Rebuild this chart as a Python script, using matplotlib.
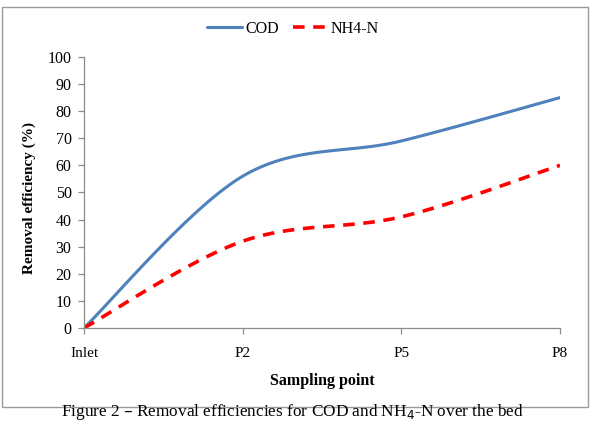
import matplotlib
matplotlib.use("Agg")
import matplotlib.pyplot as plt
import numpy as np
from matplotlib.patches import Rectangle

# data
categories = ["Inlet", "P2", "P5", "P8"]
cod = [0, 56, 69, 85]
nh4 = [0, 32, 41, 60]

plt.rcParams["font.family"] = ["Liberation Serif", "DejaVu Serif"]


def smooth(xs, ys, n=40):
    # excel style smoothing (catmull-rom as bezier segments)
    xs = np.asarray(xs, float)
    ys = np.asarray(ys, float)
    px = np.concatenate([[xs[0]], xs, [xs[-1]]])
    py = np.concatenate([[ys[0]], ys, [ys[-1]]])
    out_x, out_y = [], []
    t = np.linspace(0, 1, n)
    for i in range(1, len(px) - 2):
        p0 = np.array([px[i], py[i]])
        p3 = np.array([px[i + 1], py[i + 1]])
        c1 = p0 + (np.array([px[i + 1], py[i + 1]]) - np.array([px[i - 1], py[i - 1]])) / 6
        c2 = p3 - (np.array([px[i + 2], py[i + 2]]) - np.array([px[i], py[i]])) / 6
        b = ((1 - t) ** 3)[:, None] * p0 + (3 * (1 - t) ** 2 * t)[:, None] * c1 \
            + (3 * (1 - t) * t ** 2)[:, None] * c2 + (t ** 3)[:, None] * p3
        out_x.extend(b[:, 0])
        out_y.extend(b[:, 1])
    return out_x, out_y


fig = plt.figure(figsize=(5.92, 4.22), dpi=100)
ax = fig.add_axes([0.142, 0.223, 0.804, 0.642])

x = np.arange(len(categories))
cx, cy = smooth(x, cod)
nx, ny = smooth(x, nh4)
ax.plot(cx, cy, color="#4f81bd", linewidth=2.2, label="COD", solid_capstyle="round")
ax.plot(nx, ny, color="#ff0000", linewidth=2.6, linestyle=(0, (3.2, 2.4)), label="NH4-N")

ax.set_xlim(0, 3)
ax.set_ylim(0, 100)
ax.set_yticks(np.arange(0, 101, 10))
ax.set_xticks(x)
ax.set_xticklabels(categories)

for s in ["top", "right"]:
    ax.spines[s].set_visible(False)
for s in ["left", "bottom"]:
    ax.spines[s].set_color("#8c8c8c")
    ax.spines[s].set_linewidth(0.9)
ax.tick_params(axis="both", colors="#8c8c8c", labelcolor="black", length=4, width=0.9)
ax.tick_params(axis="y", labelsize=11.5, pad=5)
ax.tick_params(axis="x", labelsize=11, pad=10)

ax.set_ylabel("Removal efficiency (%)", fontsize=11, fontweight="bold", va="center")
ax.yaxis.set_label_coords(29 / 592, 1 - 198 / 422, transform=fig.transFigure)
ax.set_xlabel("Sampling point", fontsize=11.5, fontweight="bold", va="center")
ax.xaxis.set_label_coords(322 / 592, 1 - 381 / 422, transform=fig.transFigure)

ax.legend(loc="center left", bbox_to_anchor=(199 / 592, 1 - 29 / 422),
          bbox_transform=fig.transFigure, ncol=2, frameon=False, borderpad=0,
          fontsize=11.5, handlelength=2.2, columnspacing=0.85, handletextpad=0.2)

# outer chart border
fig.patches.append(Rectangle((2 / 592, 1 - 407 / 422), 586 / 592, 400 / 422,
                             transform=fig.transFigure, fill=False,
                             edgecolor="#9a9a9a", linewidth=1.0))

fig.text(292 / 592, 1 - 416 / 422, "Figure 2 – Removal efficiencies for COD and NH$_4$-N over the bed",
         ha="center", va="baseline", fontsize=12.4)

fig.savefig("out.png", dpi=100)
